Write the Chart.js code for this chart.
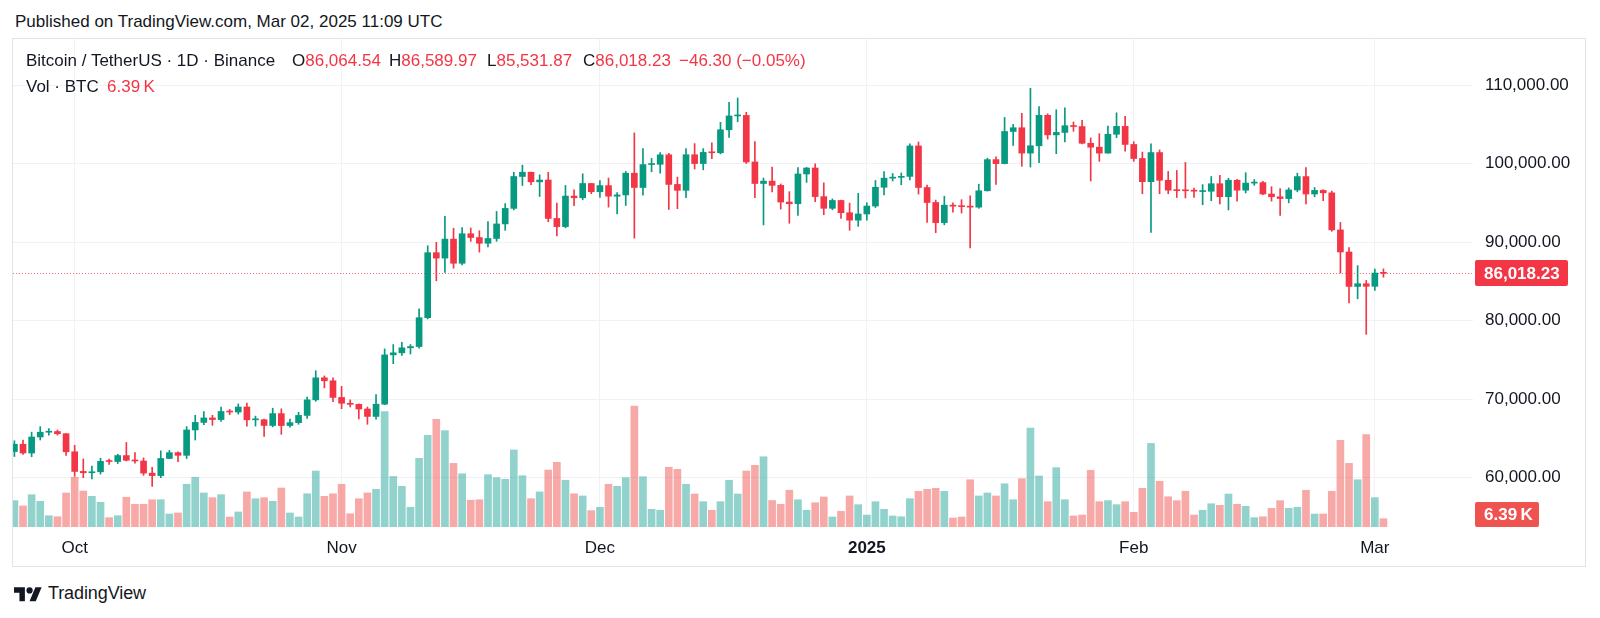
<!DOCTYPE html>
<html>
<head>
<meta charset="utf-8">
<script src="https://cdn.jsdelivr.net/npm/chart.js@4.4.1/dist/chart.umd.min.js"></script>
<style>
  html, body { margin:0; padding:0; background:#fff; width:1600px; height:618px; overflow:hidden;
    font-family:"Liberation Sans", Arial, sans-serif; color:#131722; }
  .t { position:absolute; white-space:nowrap; font-size:17px; line-height:22px; }
  .red { color:#f23645; }
  #box { position:absolute; left:12px; top:38px; width:1572px; height:527px; border:1px solid #e0e3eb; }
  #c { position:absolute; left:13px; top:39px; }
  #foot { position:absolute; left:14px; top:582px; height:22px; display:flex; align-items:center; }
  #foot span { font-size:18px; margin-left:6px; color:#131722; letter-spacing:-0.1px; }
</style>
</head>
<body>
<div class="t" style="left:15px;top:11px;">Published on TradingView.com, Mar 02, 2025 11:09 UTC</div>
<div id="box"></div>
<canvas id="c" width="1572" height="527"></canvas>
<div class="t" style="left:26px;top:50px;">Bitcoin / TetherUS · 1D · Binance</div>
<div class="t" style="left:292px;top:50px;">O<span class="red">86,064.54</span></div>
<div class="t" style="left:389px;top:50px;">H<span class="red">86,589.97</span></div>
<div class="t" style="left:487px;top:50px;">L<span class="red">85,531.87</span></div>
<div class="t" style="left:583px;top:50px;">C<span class="red">86,018.23</span></div>
<div class="t red" style="left:679px;top:50px;">−46.30 (−0.05%)</div>
<div class="t" style="left:26px;top:76px;">Vol · BTC</div>
<div class="t red" style="left:107px;top:76px;">6.39&#8239;K</div>
<div id="foot">
  <svg width="28" height="19" viewBox="0 0 36 24"><path d="M14 22H7V11H0V4h14v18z" fill="#131722"/><circle cx="20" cy="8" r="4" fill="#131722"/><path d="M28 22h-8l7.5-18h8L28 22z" fill="#131722"/></svg>
  <span>TradingView</span>
</div>
<script>
// ---------------- DATA ----------------
const dates = [
 '2024-09-24','2024-09-25','2024-09-26','2024-09-27','2024-09-28','2024-09-29','2024-09-30',
 '2024-10-01','2024-10-02','2024-10-03','2024-10-04','2024-10-05','2024-10-06','2024-10-07','2024-10-08','2024-10-09','2024-10-10',
 '2024-10-11','2024-10-12','2024-10-13','2024-10-14','2024-10-15','2024-10-16','2024-10-17','2024-10-18','2024-10-19','2024-10-20',
 '2024-10-21','2024-10-22','2024-10-23','2024-10-24','2024-10-25','2024-10-26','2024-10-27','2024-10-28','2024-10-29','2024-10-30','2024-10-31',
 '2024-11-01','2024-11-02','2024-11-03','2024-11-04','2024-11-05','2024-11-06','2024-11-07','2024-11-08','2024-11-09','2024-11-10',
 '2024-11-11','2024-11-12','2024-11-13','2024-11-14','2024-11-15','2024-11-16','2024-11-17','2024-11-18','2024-11-19','2024-11-20',
 '2024-11-21','2024-11-22','2024-11-23','2024-11-24','2024-11-25','2024-11-26','2024-11-27','2024-11-28','2024-11-29','2024-11-30',
 '2024-12-01','2024-12-02','2024-12-03','2024-12-04','2024-12-05','2024-12-06','2024-12-07','2024-12-08','2024-12-09','2024-12-10',
 '2024-12-11','2024-12-12','2024-12-13','2024-12-14','2024-12-15','2024-12-16','2024-12-17','2024-12-18','2024-12-19','2024-12-20',
 '2024-12-21','2024-12-22','2024-12-23','2024-12-24','2024-12-25','2024-12-26','2024-12-27','2024-12-28','2024-12-29','2024-12-30','2024-12-31',
 '2025-01-01','2025-01-02','2025-01-03','2025-01-04','2025-01-05','2025-01-06','2025-01-07','2025-01-08','2025-01-09','2025-01-10',
 '2025-01-11','2025-01-12','2025-01-13','2025-01-14','2025-01-15','2025-01-16','2025-01-17','2025-01-18','2025-01-19','2025-01-20',
 '2025-01-21','2025-01-22','2025-01-23','2025-01-24','2025-01-25','2025-01-26','2025-01-27','2025-01-28','2025-01-29','2025-01-30','2025-01-31',
 '2025-02-01','2025-02-02','2025-02-03','2025-02-04','2025-02-05','2025-02-06','2025-02-07','2025-02-08','2025-02-09','2025-02-10',
 '2025-02-11','2025-02-12','2025-02-13','2025-02-14','2025-02-15','2025-02-16','2025-02-17','2025-02-18','2025-02-19','2025-02-20',
 '2025-02-21','2025-02-22','2025-02-23','2025-02-24','2025-02-25','2025-02-26','2025-02-27','2025-02-28',
 '2025-03-01','2025-03-02'
];
const open = [
 63330,64260,63140,65180,65790,65880,65600,
 63300,60800,60630,60750,62090,62060,62820,62220,62130,60580,60270,62450,63190,62850,66080,67040,67610,67400,68430,68360,69000,67370,67380,66650,68160,66640,67010,67930,69910,72720,72340,
 70220,69480,69340,68750,67800,69360,75640,75900,76540,76700,80370,88650,87960,90380,87300,91060,90580,89850,90460,92310,94290,98350,98890,97670,97900,93010,91970,95860,95640,97460,
 96410,97190,95840,96000,98770,96950,99870,99900,101110,97340,96590,101120,100000,101420,101370,104300,106060,106130,100200,97460,97760,97220,95100,94880,98670,99430,95790,94300,95300,93740,92790,
 93580,94590,96980,98140,98240,98360,102240,96950,95040,92480,94700,94570,94510,94450,96530,100500,99990,104080,104560,101330,102260,106140,103650,103960,104820,104710,102580,102080,101330,103730,104730,
 102430,100640,97690,101400,97870,96610,96550,96530,96430,96470,97430,95780,97870,96610,97510,97570,96120,95770,95540,96640,98340,96120,96580,96270,91550,88740,84350,84700,
 84370,86064.54
];
const high = [
 64700,64800,65800,66500,66260,66080,65620,
 64130,62390,61470,62480,62370,62990,64480,63200,62520,61320,63420,63480,63280,66500,67950,68420,67940,68990,68690,69400,69500,67840,67470,68850,68770,67450,68330,70270,73620,72960,72700,
 71630,69910,69400,69000,70580,76400,76950,77250,76950,81500,89530,89960,93270,91770,91850,91800,91450,92600,93900,94900,98900,99800,98900,98560,98870,94970,97210,96650,98690,97460,
 97840,98150,96300,99000,103900,101900,100650,101400,101300,98270,101900,102540,101900,102650,105250,107780,108350,106530,102800,98150,99540,97400,96420,99500,99500,99960,97540,95500,95350,94960,96200,
 95000,97840,98980,98730,98800,102500,102750,97260,95350,95840,95000,95400,95900,97370,100680,100870,105870,104980,106400,109590,107240,106330,106850,107100,105290,105500,103270,103800,104780,106460,106010,
 102780,101460,102500,101730,99000,99120,100140,96880,97320,98350,98500,98120,98000,98830,97970,97730,97050,96800,96900,98770,99500,96950,96670,96500,92500,89300,87000,85120,
 86560,86589.97
];
const low = [
 62700,62950,62670,64800,65420,65420,62850,
 60160,60000,59830,60460,61700,61800,62130,61860,60300,58900,60000,62400,62030,62440,64800,66750,66660,67150,68020,68100,66570,66570,65260,66470,65520,66440,66800,67540,69730,71440,69680,
 68780,69010,67480,66800,67450,69300,74520,75560,75750,76490,80220,85070,86130,86670,87100,90090,88720,89380,90100,91500,94100,97200,97300,95800,92600,90790,91820,94650,95380,96150,
 95700,94450,93580,94660,90500,95980,98950,98770,94150,94250,95660,99310,99200,100610,101230,103330,105320,100000,95670,92180,96400,94200,92400,93400,97600,95140,93480,94110,93000,91500,92000,
 92800,94400,96000,97780,97300,97920,96110,92500,91200,92200,93800,93700,89260,94300,96500,97350,99950,102300,99650,99550,100120,103110,101260,102750,104110,102500,97780,100280,101330,103300,101560,
 100280,96150,91230,96150,96150,95680,95620,95690,94750,95260,94850,94090,95220,96250,97220,96050,95210,93390,95000,96400,94850,95770,95270,91370,86050,82260,82780,78260,
 83830,85531.87
];
const close = [
 64260,63140,65180,65790,65880,65600,63300,
 60800,60630,60750,62080,62060,62820,62220,62130,60580,60270,62450,63190,62850,66080,67040,67610,67400,68430,68360,69000,67370,67380,66650,68160,66640,67010,67930,69910,72720,72340,70220,
 69480,69340,68750,67800,69360,75640,75900,76540,76700,80370,88650,87960,90380,87300,91060,90580,89850,90460,92310,94290,98350,98890,97670,97900,93010,91970,95860,95640,97460,96410,
 97190,95840,96000,98770,96950,99870,99900,101110,97340,96590,101120,100000,101420,101370,104300,106060,106130,100200,97460,97760,97220,95100,94880,98670,99430,95790,94300,95300,93740,92790,93580,
 94590,96980,98140,98240,98360,102240,96950,95040,92480,94700,94570,94510,94450,96530,100500,99990,104080,104560,101330,102260,106140,103650,103960,104820,104710,102580,102080,101330,103730,104730,102430,
 100640,97690,101400,97870,96610,96550,96530,96480,96470,97430,95780,97870,96610,97510,97570,96120,95770,95540,96640,98340,96120,96580,96270,91550,88740,84350,84700,84370,
 86060,86018.23
];
// volume in thousands of BTC
const volumeK = [
 20.3,16.2,24.9,19.8,8.7,7.9,26.2,
 38.3,27.7,23.6,19.0,7.2,8.7,22.9,17.5,17.5,21.0,21.0,10.0,10.8,32.9,38.3,26.2,22.6,24.9,7.7,11.6,27.0,21.8,22.6,19.8,30.0,10.8,7.7,25.6,43.1,23.6,25.6,
 32.9,10.2,21.8,26.2,29.0,88.9,38.9,31.3,15.2,52.9,70.6,82.9,74.2,49.0,41.0,20.6,21.0,40.3,38.0,36.7,59.3,39.5,21.8,27.0,43.9,49.8,36.0,25.6,23.9,12.6,
 15.2,32.9,31.3,38.0,93.2,38.7,13.6,12.9,46.0,44.4,32.9,25.4,19.5,12.9,19.5,36.0,25.4,43.1,47.5,54.1,20.4,17.5,28.3,21.0,12.9,18.7,23.1,7.7,12.1,23.9,17.2,
 9.2,19.5,13.6,8.5,7.9,21.8,27.5,29.0,29.8,27.5,6.9,7.7,36.4,23.9,26.2,23.9,33.3,21.0,37.2,76.2,39.3,19.5,45.7,21.0,8.5,9.2,43.7,19.5,20.3,17.2,19.5,
 11.3,29.8,64.4,35.2,23.3,20.3,27.5,9.2,12.9,17.9,16.7,25.4,17.5,15.9,7.2,7.9,14.4,20.3,14.4,15.2,28.3,10.0,10.0,27.5,66.8,49.0,36.4,71.1,
 22.6,6.39
];
const priceTicks = [60000, 70000, 80000, 90000, 100000, 110000];
const monthTickDates = ['2024-10-01','2024-11-01','2024-12-01','2025-01-01','2025-02-01','2025-03-01'];
const monthTickLabels = ['Oct','Nov','Dec','2025','Feb','Mar'];

// ---------------- CHART ----------------
const FONT = '"Liberation Sans", Arial, sans-serif';
const UP = '#089981', DOWN = '#f23645';
const VOL_UP = 'rgba(38,166,154,0.5)', VOL_DOWN = 'rgba(239,83,80,0.5)';
const isUp = close.map((c, i) => c >= open[i]);
const candleColors = isUp.map(u => u ? UP : DOWN);
const volColors = isUp.map(u => u ? VOL_UP : VOL_DOWN);
const monthTickIdx = monthTickDates.map(d => dates.indexOf(d));
const last = close.length - 1;

const zeroPad = s => { s.paddingTop = 0; s.paddingBottom = 0; s.paddingLeft = 0; s.paddingRight = 0; };

const lastPricePlugin = {
  id: 'lastPrice',
  beforeDatasetsDraw(chart) {
    const { ctx, chartArea: a, scales: { y } } = chart;
    const py = Math.round(y.getPixelForValue(close[last])) + 0.5;
    ctx.save();
    ctx.strokeStyle = 'rgba(242,54,69,0.75)';
    ctx.lineWidth = 1;
    ctx.setLineDash([1, 2]);
    ctx.beginPath(); ctx.moveTo(a.left, py); ctx.lineTo(a.right, py); ctx.stroke();
    ctx.restore();
  },
  afterDraw(chart) {
    const { ctx, chartArea: a, scales: { y } } = chart;
    const py = Math.round(y.getPixelForValue(close[last]));
    ctx.save();
    ctx.fillStyle = '#f23645';
    ctx.beginPath(); ctx.roundRect(a.right + 2, py - 13, 93, 26, 2); ctx.fill();
    ctx.fillStyle = '#ffffff';
    ctx.font = 'bold 17px ' + FONT;
    ctx.textAlign = 'left'; ctx.textBaseline = 'middle';
    ctx.fillText(close[last].toLocaleString('en-US', { minimumFractionDigits: 2, maximumFractionDigits: 2 }), a.right + 11, py + 1);
    // volume label
    ctx.fillStyle = '#ef5350';
    ctx.beginPath(); ctx.roundRect(a.right + 2, a.bottom - 25, 64, 25, 2); ctx.fill();
    ctx.fillStyle = '#ffffff';
    ctx.fillText(volumeK[last].toFixed(2) + '\u2009K', a.right + 11, a.bottom - 12);
    ctx.restore();
  }
};

new Chart(document.getElementById('c'), {
  type: 'bar',
  data: {
    datasets: [
      { label: 'body', data: dates.map((d, i) => ({ x: i, y: [open[i], close[i]] })),
        backgroundColor: candleColors, barThickness: 6, minBarLength: 1, grouped: false, yAxisID: 'y', order: 0 },
      { label: 'wick', data: dates.map((d, i) => ({ x: i, y: [low[i], high[i]] })),
        backgroundColor: candleColors, barThickness: 1, grouped: false, yAxisID: 'y', order: 1 },
      { label: 'volume', data: dates.map((d, i) => ({ x: i, y: volumeK[i] })),
        backgroundColor: volColors, barThickness: 7, grouped: false, yAxisID: 'v', order: 2 }
    ]
  },
  options: {
    responsive: false, animation: false, events: [],
    layout: { padding: 0 },
    plugins: { legend: { display: false }, tooltip: { enabled: false } },
    scales: {
      x: {
        type: 'linear', min: -0.163, max: 169.4, offset: false,
        grid: { color: '#f2f2f4', drawTicks: false, offset: false },
        border: { display: false },
        afterBuildTicks: s => { s.ticks = monthTickIdx.map(v => ({ value: v })); },
        afterFit: s => { s.height = 39; zeroPad(s); },
        ticks: {
          autoSkip: false, maxRotation: 0, padding: 11, color: '#131722',
          font: c => ({ family: FONT, size: 17,
            weight: (c.tick && monthTickLabels[monthTickIdx.indexOf(c.tick.value)] === '2025') ? 'bold' : 'normal' }),
          callback: v => monthTickLabels[monthTickIdx.indexOf(v)]
        }
      },
      y: {
        type: 'linear', position: 'right', min: 53723, max: 115857,
        grid: { color: '#f0f1f4', drawTicks: false },
        border: { display: false },
        afterBuildTicks: s => { s.ticks = priceTicks.map(v => ({ value: v })); },
        afterFit: s => { s.width = 112; zeroPad(s); },
        ticks: { padding: 12, color: '#131722', font: { family: FONT, size: 17 },
          callback: v => Number(v).toLocaleString('en-US', { minimumFractionDigits: 2, maximumFractionDigits: 2 }) }
      },
      v: { type: 'linear', display: false, min: 0, max: 375.8, afterFit: zeroPad }
    }
  },
  plugins: [lastPricePlugin]
});
</script>
</body>
</html>
